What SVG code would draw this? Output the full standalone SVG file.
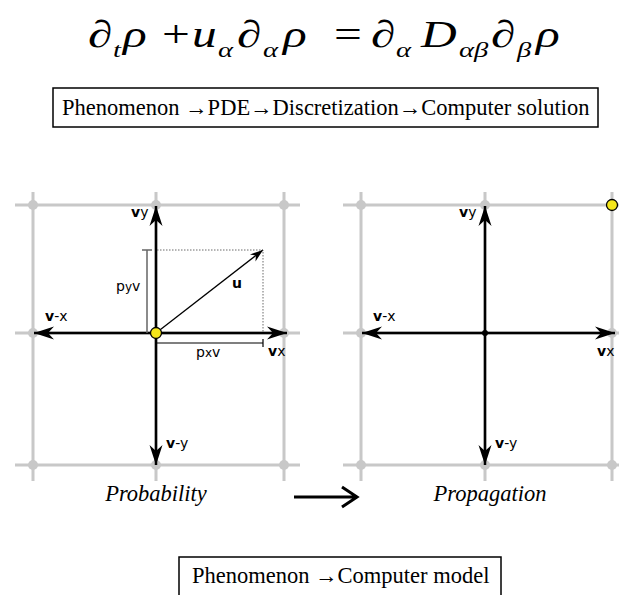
<svg xmlns="http://www.w3.org/2000/svg" width="619" height="595" viewBox="0 0 619 595">
<style>
.grid{stroke:#c8c8c8;stroke-width:3;fill:none}
.gdot{fill:#c8c8c8}
.vec{stroke:#000;stroke-width:2.5;fill:none}
.lbl{font-family:"DejaVu Sans",sans-serif;font-size:14px;fill:#000}
.b{font-weight:bold}
.serif{font-family:"Liberation Serif","Times New Roman",serif;fill:#000;font-size:22.5px}
.box{fill:none;stroke:#000;stroke-width:1.5}
.eq{font-family:"Liberation Serif","Times New Roman",serif;font-style:italic;font-size:38px;fill:#000}
.eqn{font-style:normal}
.sub{font-size:22px}
.yel{fill:#f5e61a;stroke:#000;stroke-width:1.3}
</style>
<defs>
<marker id="ah" markerUnits="userSpaceOnUse" markerWidth="24" markerHeight="16" viewBox="-22 -8 24 16" refX="0" refY="0" orient="auto">
<path d="M0,0 L-20,-6.5 L-14,0 L-20,6.5 Z" fill="#000"/>
</marker>
<marker id="ahs" markerUnits="userSpaceOnUse" markerWidth="16" markerHeight="12" viewBox="-14 -6 16 12" refX="0" refY="0" orient="auto">
<path d="M0,0 L-13,-4.5 L-9,0 L-13,4.5 Z" fill="#000"/>
</marker>
</defs>

<g id="equation" transform="scale(1.3,1)">
<text class="eq" y="47"><tspan class="eqn" x="67.7">∂</tspan><tspan class="sub" x="87" y="57">t</tspan><tspan x="94.6" y="47">ρ</tspan><tspan class="eqn" x="124.6">+</tspan><tspan x="147.7">u</tspan><tspan class="sub" x="167.7" y="57">α</tspan><tspan class="eqn" x="182.3" y="47">∂</tspan><tspan class="sub" x="202.3" y="57">α</tspan><tspan x="217.7" y="47">ρ</tspan><tspan class="eqn" x="256.9">=</tspan><tspan class="eqn" x="285.4">∂</tspan><tspan class="sub" x="304.6" y="57">α</tspan><tspan x="323.8" y="47">D</tspan><tspan class="sub" x="353" y="57">αβ</tspan><tspan class="eqn" x="377.7" y="47">∂</tspan><tspan class="sub" x="397.7" y="57">β</tspan><tspan x="412.3" y="47">ρ</tspan></text>
</g>

<g id="box-top">
<rect class="box" x="53" y="88" width="545" height="39"/>
<text class="serif" x="62" y="115">Phenomenon →PDE→Discretization→Computer solution</text>
</g>

<g id="grid-left">
<path class="grid" d="M33,192V481M156,192V481M284,192V481M15,205H300M15,333H300M15,465H300"/>
<circle class="gdot" cx="33" cy="205" r="5"/><circle class="gdot" cx="156" cy="205" r="5"/><circle class="gdot" cx="284" cy="205" r="5"/>
<circle class="gdot" cx="33" cy="333" r="5"/><circle class="gdot" cx="284" cy="333" r="5"/>
<circle class="gdot" cx="33" cy="465" r="5"/><circle class="gdot" cx="156" cy="465" r="5"/><circle class="gdot" cx="284" cy="465" r="5"/>
</g>

<g id="grid-right">
<path class="grid" d="M361,192V481M485,192V481M612,192V481M343,205H619M343,333H619M343,465H619"/>
<circle class="gdot" cx="361" cy="205" r="5"/><circle class="gdot" cx="485" cy="205" r="5"/>
<circle class="gdot" cx="361" cy="333" r="5"/><circle class="gdot" cx="612" cy="333" r="5"/>
<circle class="gdot" cx="361" cy="465" r="5"/><circle class="gdot" cx="485" cy="465" r="5"/><circle class="gdot" cx="612" cy="465" r="5"/>
</g>

<g id="connectors">
<line class="vec" x1="156" y1="333" x2="156" y2="206" marker-end="url(#ah)"/>
<line class="vec" x1="156" y1="333" x2="34" y2="333" marker-end="url(#ah)"/>
<line class="vec" x1="156" y1="333" x2="287" y2="333" marker-end="url(#ah)"/>
<line class="vec" x1="156" y1="333" x2="156" y2="465" marker-end="url(#ah)"/>
<line x1="156" y1="333" x2="263" y2="250" stroke="#000" stroke-width="1.3" marker-end="url(#ahs)"/>
<path d="M157,250H263V332" fill="none" stroke="#444" stroke-width="0.8" stroke-dasharray="1.5,1.5"/>
<path d="M147,333V250M142,250H152" fill="none" stroke="#666" stroke-width="1.5"/>
<path d="M157,343H263M263,339V347" fill="none" stroke="#000" stroke-width="1.2"/>
<line class="vec" x1="485" y1="333" x2="485" y2="206" marker-end="url(#ah)"/>
<line class="vec" x1="485" y1="333" x2="362" y2="333" marker-end="url(#ah)"/>
<line class="vec" x1="485" y1="333" x2="615" y2="333" marker-end="url(#ah)"/>
<line class="vec" x1="485" y1="333" x2="485" y2="465" marker-end="url(#ah)"/>
<path d="M294,497H356M342,487L357,497L342,507" fill="none" stroke="#000" stroke-width="3"/>
</g>

<g id="node-left">
<circle class="yel" cx="156" cy="333" r="5.5"/>
<text class="lbl" x="131" y="217"><tspan class="b">v</tspan>y</text>
<text class="lbl" x="45" y="321"><tspan class="b">v</tspan>-x</text>
<text class="lbl" x="268" y="356"><tspan class="b">v</tspan>x</text>
<text class="lbl" x="166" y="448"><tspan class="b">v</tspan>-y</text>
<text class="lbl" x="116" y="291">p<tspan font-size="12">y</tspan>v</text>
<text class="lbl b" x="232" y="288">u</text>
<text class="lbl" x="196" y="357">p<tspan font-size="12">x</tspan>v</text>
</g>

<g id="node-right">
<circle cx="485" cy="333" r="3" fill="#000"/>
<circle class="yel" cx="612" cy="205" r="5.5"/>
<text class="lbl" x="459" y="217"><tspan class="b">v</tspan>y</text>
<text class="lbl" x="373" y="321"><tspan class="b">v</tspan>-x</text>
<text class="lbl" x="597" y="356"><tspan class="b">v</tspan>x</text>
<text class="lbl" x="495" y="448"><tspan class="b">v</tspan>-y</text>
</g>

<g id="captions">
<text class="serif" x="156" y="501" font-style="italic" text-anchor="middle">Probability</text>
<text class="serif" x="490" y="501" font-style="italic" text-anchor="middle">Propagation</text>
</g>

<g id="box-bottom">
<rect class="box" x="179" y="557" width="322" height="50"/>
<text class="serif" x="192" y="583">Phenomenon →Computer model</text>
</g>
</svg>
